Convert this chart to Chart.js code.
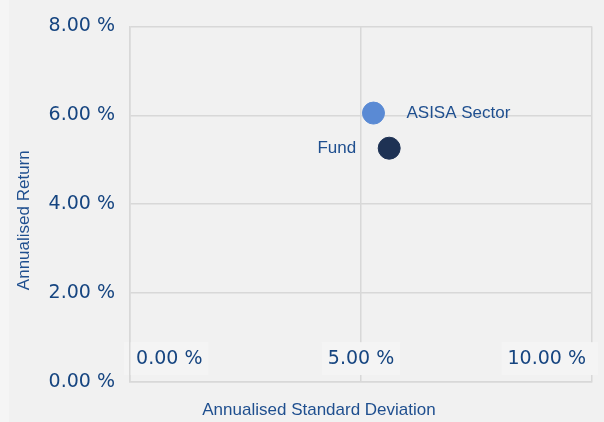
<!DOCTYPE html>
<html lang="en">
<head>
    <meta charset="UTF-8">
    <title>Risk / Return</title>
    <style>
        body {
            margin: 0;
            background-color: #f5f5f5;
        }
        .chart-box {
            position: absolute;
            left: 9px;
            top: 0;
            width: 595px;
            height: 422px;
            background-color: #f1f1f1;
        }
    </style>
</head>
<body>

<div class="chart-box">
    <canvas id="riskChart"></canvas>
</div>

<script src="https://cdn.jsdelivr.net/npm/chart.js"></script>
<script>
    // values (percent)
    const seriesNames = ['ASISA Sector', 'Fund'];
    const stdDev = [5.27, 5.61];
    const returns = [6.05, 5.26];
    const pointColors = ['#5a8ad4', '#1e3254'];
    const labelSide = ['right', 'left'];
    const xTicks = [0, 5, 10];
    const yTicks = [0, 2, 4, 6, 8];
    const xTitle = 'Annualised Standard Deviation';
    const yTitle = 'Annualised Return';

    const tickColor = '#164580';
    const textColor = '#1f4f8f';
    const gridColor = '#d8d8d8';

    function pct(v) {
        return v.toFixed(2) + ' %';
    }

    // series names beside the points, plus the two axis titles
    const chartTexts = {
        id: 'chartTexts',
        afterDatasetsDraw(chart) {
            const ctx = chart.ctx;
            const area = chart.chartArea;
            ctx.save();
            ctx.font = '17px "Liberation Sans", Arial, sans-serif';
            ctx.fillStyle = textColor;
            ctx.textBaseline = 'middle';
            chart.data.datasets.forEach((ds, i) => {
                const pt = chart.getDatasetMeta(i).data[0];
                if (!pt) return;
                if (ds.side === 'left') {
                    ctx.textAlign = 'right';
                    ctx.fillText(ds.label, pt.x - 33, pt.y);
                } else {
                    ctx.textAlign = 'left';
                    ctx.fillText(ds.label, pt.x + 33, pt.y);
                }
            });

            // axis titles sit a little off-centre in the original
            ctx.textAlign = 'center';
            ctx.fillText(xTitle, (area.left + area.right) / 2 - 42, chart.height - 12);
            ctx.translate(15, (area.top + area.bottom) / 2 + 16);
            ctx.rotate(-Math.PI / 2);
            ctx.fillText(yTitle, 0, 0);
            ctx.restore();
        }
    };

    const datasets = seriesNames.map((name, i) => ({
        label: name,
        side: labelSide[i],
        data: [{ x: stdDev[i], y: returns[i] }],
        backgroundColor: pointColors[i],
        borderColor: pointColors[i],
        pointRadius: 11,
        pointHoverRadius: 11
    }));

    new Chart(document.getElementById('riskChart').getContext('2d'), {
        type: 'scatter',
        data: { datasets: datasets },
        options: {
            responsive: true,
            maintainAspectRatio: false,
            animation: false,
            layout: {
                autoPadding: false,
                padding: { top: 20, right: 9, bottom: 40, left: 25 }
            },
            plugins: {
                legend: { display: false },
                tooltip: { enabled: false }
            },
            scales: {
                x: {
                    type: 'linear',
                    min: xTicks[0],
                    max: xTicks[xTicks.length - 1],
                    afterBuildTicks: axis => { axis.ticks = xTicks.map(v => ({ value: v })); },
                    afterFit: axis => { axis.height = 0; },
                    grid: { color: gridColor, lineWidth: 1.5, drawTicks: false },
                    border: { color: gridColor, width: 1.5 },
                    ticks: {
                        mirror: true,
                        padding: 12,
                        align: 'inner',
                        color: tickColor,
                        font: { family: '"DejaVu Sans"', size: 19 },
                        showLabelBackdrop: true,
                        backdropColor: '#f4f4f4',
                        backdropPadding: { x: 6, y: 5 },
                        callback: (v, i, all) => {
                            if (i === 0) return ' ' + pct(v);
                            if (i === all.length - 1) return pct(v) + ' ';
                            return pct(v);
                        }
                    }
                },
                y: {
                    type: 'linear',
                    min: yTicks[0],
                    max: yTicks[yTicks.length - 1],
                    afterBuildTicks: axis => { axis.ticks = yTicks.map(v => ({ value: v })); },
                    afterFit: axis => { axis.width = 96; },
                    grid: { color: gridColor, lineWidth: 1.5, drawTicks: false },
                    border: { color: gridColor, width: 1.5 },
                    ticks: {
                        padding: 15,
                        color: tickColor,
                        font: { family: '"DejaVu Sans"', size: 19 },
                        callback: v => pct(v)
                    }
                }
            }
        },
        plugins: [chartTexts]
    });
</script>

</body>
</html>
